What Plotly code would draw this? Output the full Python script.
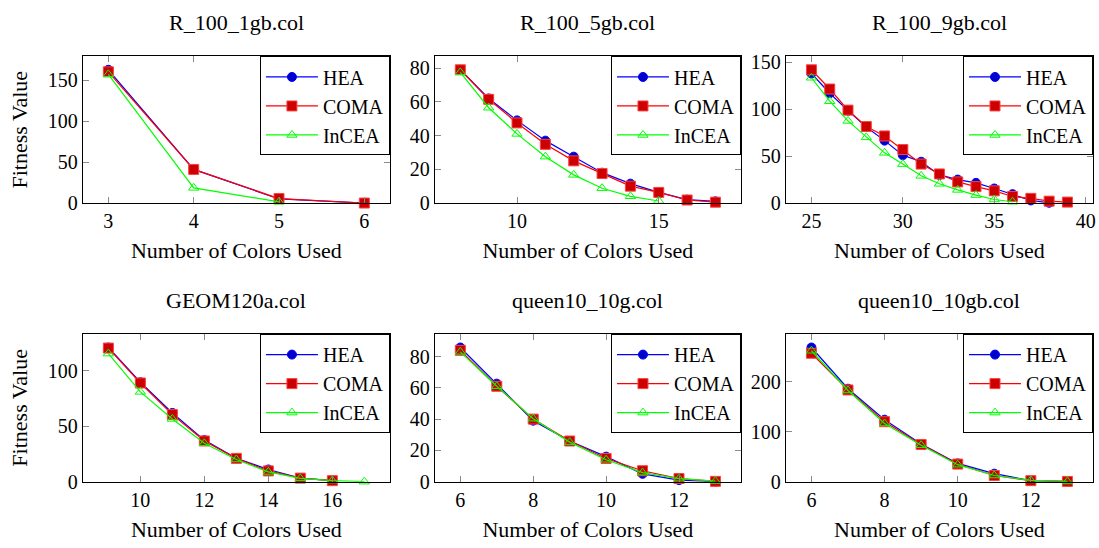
import plotly.graph_objects as go

# ---------------- data ----------------
titles = ["R_100_1gb.col", "R_100_5gb.col", "R_100_9gb.col",
          "GEOM120a.col", "queen10_10g.col", "queen10_10gb.col"]
series_names = ["HEA", "COMA", "InCEA"]

# Panel 1: R_100_1gb.col
x_hea1 = [3, 4, 5, 6]
hea1 = [162.5, 41, 5, 0]
x_coma1 = [3, 4, 5, 6]
coma1 = [160, 41, 5.5, 0]
x_incea1 = [3, 4, 5]
incea1 = [157, 18.5, 1.5]

# Panel 2: R_100_5gb.col
x_hea2 = [8, 9, 10, 11, 12, 13, 14, 15, 16, 17]
hea2 = [79, 62, 49, 37, 27.5, 18, 11.5, 6.3, 2, 1]
x_coma2 = [8, 9, 10, 11, 12, 13, 14, 15, 16, 17]
coma2 = [79, 61.5, 47.5, 34.8, 25, 17.5, 10, 6.3, 1.8, 0.5]
x_incea2 = [8, 9, 10, 11, 12, 13, 14, 15]
incea2 = [77.5, 56.5, 41, 27.5, 16.7, 8.8, 4, 1.2]

# Panel 3: R_100_9gb.col
x_hea3 = [25, 26, 27, 28, 29, 30, 31, 32, 33, 34, 35, 36, 37, 38]
hea3 = [138, 117, 98.5, 81, 66.5, 51, 44, 30, 25, 21.5, 15.5, 9.5, 2.8, 0.3]
x_coma3 = [25, 26, 27, 28, 29, 30, 31, 32, 33, 34, 35, 36, 37, 38, 39]
coma3 = [142, 121.5, 99, 81.5, 71.5, 57, 41.5, 31, 22.5, 17.5, 13, 7, 5, 2, 1]
x_incea3 = [25, 26, 27, 28, 29, 30, 31, 32, 33, 34, 35, 36]
incea3 = [133.5, 108.5, 87.5, 70, 53.5, 41.5, 29, 20.5, 14, 8.5, 3.8, 1.4]

# Panel 4: GEOM120a.col
x_hea4 = [9, 10, 11, 12, 13, 14, 15, 16]
hea4 = [121, 89.7, 62, 37.5, 21, 11, 3.2, 1]
x_coma4 = [9, 10, 11, 12, 13, 14, 15, 16]
coma4 = [120.5, 89, 60.5, 36.7, 21, 9.7, 3.2, 0.9]
x_incea4 = [9, 10, 11, 12, 13, 14, 15, 16, 17]
incea4 = [115.5, 81, 56.6, 34.6, 20, 8.8, 3, 1, 0]

# Panel 5: queen10_10g.col
x_hea5 = [6, 7, 8, 9, 10, 11, 12, 13]
hea5 = [85.8, 62.7, 39, 26, 16, 5, 1, 0]
x_coma5 = [6, 7, 8, 9, 10, 11, 12, 13]
coma5 = [84, 61, 40, 26, 14.8, 7, 2, 0.2]
x_incea5 = [6, 7, 8, 9, 10, 11, 12, 13]
incea5 = [83, 61, 40.3, 25.3, 14, 5.8, 1.9, 0.4]

# Panel 6: queen10_10gb.col
x_hea6 = [6, 7, 8, 9, 10, 11, 12, 13]
hea6 = [268.5, 186, 124, 75.5, 36.5, 16, 2, 0]
x_coma6 = [6, 7, 8, 9, 10, 11, 12, 13]
coma6 = [257, 183.5, 120, 74.3, 35.2, 12.4, 2, 0.5]
x_incea6 = [6, 7, 8, 9, 10, 11, 12, 13]
incea6 = [262, 182.5, 116.5, 73, 34, 12.4, 2.6, 0.5]

# tick values
xticks1 = [3, 4, 5, 6]
yticks1 = [0, 50, 100, 150]
xticks2 = [10, 15]
yticks2 = [0, 20, 40, 60, 80]
xticks3 = [25, 30, 35, 40]
yticks3 = [0, 50, 100, 150]
xticks4 = [10, 12, 14, 16]
yticks4 = [0, 50, 100]
xticks5 = [6, 8, 10, 12]
yticks5 = [0, 20, 40, 60, 80]
xticks6 = [6, 8, 10, 12]
yticks6 = [0, 100, 200]

xlabel = "Number of Colors Used"
ylabel = "Fitness Value"

panels = [
    (x_hea1, hea1, x_coma1, coma1, x_incea1, incea1, xticks1, yticks1),
    (x_hea2, hea2, x_coma2, coma2, x_incea2, incea2, xticks2, yticks2),
    (x_hea3, hea3, x_coma3, coma3, x_incea3, incea3, xticks3, yticks3),
    (x_hea4, hea4, x_coma4, coma4, x_incea4, incea4, xticks4, yticks4),
    (x_hea5, hea5, x_coma5, coma5, x_incea5, incea5, xticks5, yticks5),
    (x_hea6, hea6, x_coma6, coma6, x_incea6, incea6, xticks6, yticks6),
]

# ---------------- layout geometry ----------------
W, H = 1099, 548
FONT = "'Liberation Serif', 'Times New Roman', 'DejaVu Serif', serif"
col_px = [(83, 391), (436, 743), (788, 1096)]
row_px = [(53, 204), (339, 491)]

styles = [
    dict(line=dict(color="#0000ff", width=1.2),
         marker=dict(symbol="circle", size=9, color="#0000cc",
                     line=dict(color="#0000ff", width=1))),
    dict(line=dict(color="#ff0000", width=1.2),
         marker=dict(symbol="square", size=10, color="#cc0000",
                     line=dict(color="#ff4040", width=1))),
    dict(line=dict(color="#00ff00", width=1.2),
         marker=dict(symbol="triangle-up-open", size=9, color="#00ff00",
                     line=dict(color="#00ff00", width=1))),
]

fig = go.Figure()
layout = dict(width=W, height=H, margin=dict(l=0, r=0, t=0, b=0),
              paper_bgcolor="white", plot_bgcolor="white",
              font=dict(family=FONT, color="black", size=20),
              annotations=[])

for i, p in enumerate(panels):
    k = i + 1
    r, c = divmod(i, 3)
    x0, x1 = col_px[c]
    y0, y1 = row_px[r]
    xs_h, ys_h, xs_c, ys_c, xs_i, ys_i, xt, yt = p
    ax = "" if k == 1 else str(k)
    lg = "legend" if k == 1 else f"legend{k}"
    for name, xs, ys, st in zip(series_names, (xs_h, xs_c, xs_i),
                                (ys_h, ys_c, ys_i), styles):
        fig.add_trace(go.Scatter(
            x=xs, y=ys, name=name, mode="lines+markers",
            xaxis="x" + ax, yaxis="y" + ax, legend=lg,
            cliponaxis=False, **st))
    allx = xs_h + xs_c + xs_i
    ally = ys_h + ys_c + ys_i
    xmin, xmax = min(allx), max(allx)
    pad = 0.1 * (xmax - xmin)
    ymax = max(ally) * 1.1
    common = dict(showline=True, linecolor="black", linewidth=1,
                  mirror="ticks", ticks="inside", ticklen=6, tickwidth=1,
                  tickcolor="#8a8a8a", showgrid=False, zeroline=False,
                  tickfont=dict(family=FONT, size=20, color="black"))
    layout["xaxis" + ax] = dict(
        domain=[x0 / W, x1 / W], anchor="y" + ax,
        range=[xmin - pad, xmax + pad], tickvals=xt,
        title=dict(text=xlabel, font=dict(family=FONT, size=22, color="black"),
                   standoff=11),
        **common)
    ydict = dict(domain=[1 - y1 / H, 1 - y0 / H], anchor="x" + ax,
                 range=[0, ymax], tickvals=yt, **common)
    if c == 0:
        ydict["title"] = dict(text=ylabel,
                              font=dict(family=FONT, size=22, color="black"),
                              standoff=14)
    layout["yaxis" + ax] = ydict
    layout[lg] = dict(x=x1 / W, xanchor="right", y=1 - y0 / H, yanchor="top",
                      bgcolor="white", bordercolor="black", borderwidth=1,
                      itemwidth=52,
                      font=dict(family=FONT, size=20, color="black"))
    layout["annotations"].append(dict(
        text=titles[i], xref="paper", yref="paper",
        x=(x0 + x1) / 2 / W, y=1 - y0 / H, xanchor="center", yanchor="bottom",
        yshift=19, showarrow=False,
        font=dict(family=FONT, size=22, color="black")))

fig.update_layout(**layout)
fig.update_layout(showlegend=True)
fig.write_html("out.html")
